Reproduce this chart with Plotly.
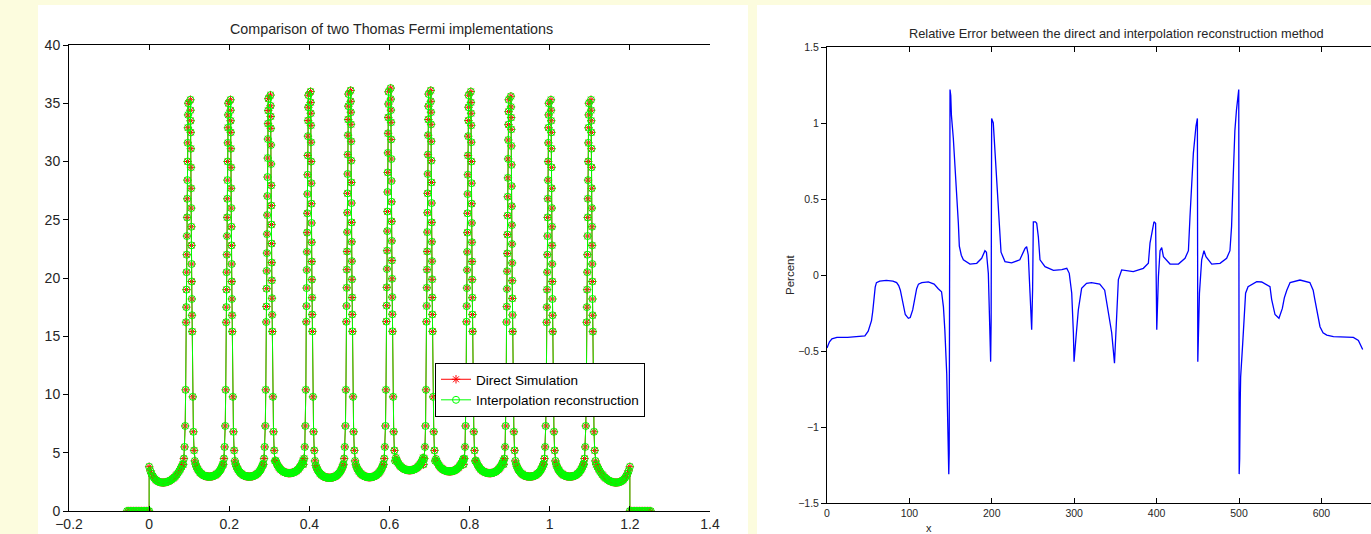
import plotly.graph_objects as go

W, H = 1371, 534

# ---------------- Left panel data ----------------
nuclei_x = [0.1, 0.2, 0.3, 0.4, 0.5, 0.6, 0.7, 0.8, 0.9, 1.0, 1.1]
peak_heights = [35.3, 35.3, 35.7, 36.0, 36.1, 36.3, 36.1, 36.0, 35.6, 35.3, 35.3]
valley_mins = [2.95, 2.95, 3.25, 2.85, 2.90, 3.50, 3.40, 3.25, 2.95, 2.95]

# points just left of each nucleus (offset, value)
peak_in_dx = [-0.0150, -0.0132, -0.0115, -0.0100, -0.0088, -0.0078, -0.0072, -0.0068,
              -0.0064, -0.0060, -0.0056, -0.0052, -0.0048, -0.0044, -0.0040, -0.0036,
              -0.0032, -0.0028, -0.0024]
peak_in_y = [4.0, 4.5, 5.5, 7.3, 10.4, 16.2, 17.5, 19.0, 20.5, 22.0, 23.6, 25.2, 26.8,
             28.4, 30.0, 31.6, 32.9, 34.0, 35.0]
# points just right of each nucleus
peak_out_dx = [0.0030, 0.0033, 0.0036, 0.0039, 0.0042, 0.0045, 0.0048, 0.0051, 0.0054,
               0.0057, 0.0060, 0.0063, 0.0066, 0.0070, 0.0076, 0.0090, 0.0105, 0.0122, 0.0140]
peak_out_y = [35.3, 34.4, 33.5, 32.5, 31.1, 29.5, 27.7, 26.0, 24.4, 22.8, 21.2, 19.7,
              18.2, 16.8, 15.4, 9.8, 6.8, 5.2, 4.3]
profile_top = 35.3

# valley between two nuclei (offset from the left nucleus)
valley_dx = [0.016, 0.018, 0.020, 0.022, 0.024, 0.026, 0.028, 0.030, 0.032, 0.034, 0.036,
             0.038, 0.040, 0.042, 0.044, 0.046, 0.048, 0.050, 0.052, 0.054, 0.056, 0.058,
             0.060, 0.062, 0.064, 0.066, 0.068, 0.070, 0.072, 0.074, 0.076, 0.078, 0.080,
             0.082, 0.084]
valley_y = [4.00, 3.80, 3.65, 3.52, 3.42, 3.33, 3.25, 3.19, 3.13, 3.08, 3.04, 3.01, 2.98,
            2.96, 2.95, 2.94, 2.93, 2.93, 2.93, 2.94, 2.95, 2.96, 2.98, 3.01, 3.04, 3.08,
            3.13, 3.19, 3.25, 3.33, 3.42, 3.52, 3.65, 3.80, 4.00]

edge_left_x = [0.000, 0.003, 0.006, 0.009, 0.012, 0.015, 0.018, 0.021, 0.024, 0.027,
               0.030, 0.033, 0.036, 0.039, 0.042, 0.045, 0.048, 0.051, 0.054, 0.057,
               0.060, 0.063, 0.066, 0.069, 0.072, 0.075, 0.078, 0.081, 0.084]
edge_left_y = [3.80, 3.45, 3.20, 3.00, 2.85, 2.73, 2.63, 2.56, 2.51, 2.47, 2.45, 2.44,
               2.44, 2.45, 2.47, 2.50, 2.54, 2.59, 2.65, 2.72, 2.80, 2.89, 3.00, 3.12,
               3.26, 3.42, 3.60, 3.80, 4.00]
edge_right_x = [1.116, 1.119, 1.122, 1.125, 1.128, 1.131, 1.134, 1.137, 1.140, 1.143,
                1.146, 1.149, 1.152, 1.155, 1.158, 1.161, 1.164, 1.167, 1.170, 1.173,
                1.176, 1.179, 1.182, 1.185, 1.188, 1.191, 1.194, 1.197, 1.200]
edge_right_y = [4.00, 3.80, 3.60, 3.42, 3.26, 3.12, 3.00, 2.89, 2.80, 2.72, 2.65, 2.59,
                2.54, 2.50, 2.47, 2.45, 2.44, 2.44, 2.45, 2.47, 2.51, 2.56, 2.63, 2.73,
                2.85, 3.00, 3.20, 3.45, 3.80]
tail_left_x = [-0.055, -0.051, -0.047, -0.043, -0.039, -0.035, -0.031, -0.027, -0.023,
               -0.019, -0.015, -0.011, -0.007, -0.003, 0.0]
tail_left_y = [0, 0, 0, 0, 0, 0, 0, 0, 0, 0, 0, 0, 0, 0, 0]
tail_right_x = [1.2, 1.204, 1.208, 1.212, 1.216, 1.22, 1.224, 1.228, 1.232, 1.236, 1.24,
                1.244, 1.248, 1.252]
tail_right_y = [0, 0, 0, 0, 0, 0, 0, 0, 0, 0, 0, 0, 0, 0]

left_xticks = [-0.2, 0, 0.2, 0.4, 0.6, 0.8, 1, 1.2, 1.4]
left_xtext = ["\u22120.2", "0", "0.2", "0.4", "0.6", "0.8", "1", "1.2", "1.4"]
left_yticks = [0, 5, 10, 15, 20, 25, 30, 35, 40]

# ---------------- Right panel data ----------------
err_x = [0, 3, 6, 12, 25, 40, 46, 50, 52, 54, 55.5, 57, 58.5, 60, 64, 72, 80, 84.5, 87, 89,
         91, 92.6, 95, 98.7, 101, 104, 106, 108.8, 111, 115, 123, 130, 135, 139, 141.3, 143,
         145.3, 146.5, 147, 147.8, 148.3, 149.3, 150.2, 151, 153.3, 155.3, 157.4, 159.4,
         160.6, 163, 165.5, 173.5, 181.7, 187.7, 191.7, 193.5, 195.8, 197, 198.6, 199.2,
         199.8, 201.8, 203.9, 205.9, 208, 210, 211.2, 216, 224, 234, 240.3, 242.3, 244.3,
         246.4, 248.4, 249.5, 250.4, 253, 254.5, 256.5, 258.5, 264.6, 274.8, 285, 291, 294,
         297, 299, 299.8, 302.2, 305, 309, 315, 321, 331, 337, 341.4, 345.5, 348.9, 350.7,
         353.6, 357.6, 371.7, 383.9, 390, 392, 395.3, 396.8, 398.8, 399.5, 400.2, 402.2,
         404.2, 406.2, 408.3, 416.3, 426.5, 434.5, 438.6, 440.5, 442.5, 444.6, 447.8, 448.7,
         449.5, 450, 452, 454.7, 457.5, 459.9, 466.9, 477, 485, 489, 491, 493, 495, 497, 499,
         499.7, 500.2, 500.8, 501.5, 502, 504.5, 506, 508, 511, 521.5, 527.5, 537.6, 539.6,
         543.7, 548.5, 552.6, 555, 558, 562, 574, 586, 590, 592, 594.3, 598.3, 602, 606.5,
         614.6, 638.8, 644.9, 648, 650.1]
err_y = [-0.48, -0.44, -0.42, -0.41, -0.41, -0.405, -0.40, -0.37, -0.34, -0.30, -0.24, -0.15,
         -0.08, -0.05, -0.04, -0.035, -0.04, -0.05, -0.07, -0.10, -0.15, -0.21, -0.26, -0.285,
         -0.28, -0.23, -0.16, -0.09, -0.06, -0.05, -0.045, -0.06, -0.09, -0.11, -0.21, -0.36,
         -0.65, -0.91, -1.17, -1.31, -1.17, 1.22, 1.18, 1.05, 0.90, 0.74, 0.54, 0.34, 0.19,
         0.13, 0.10, 0.072, 0.077, 0.11, 0.16, 0.15, 0.01, -0.25, -0.57, -0.30, 1.03, 1.00,
         0.81, 0.67, 0.52, 0.34, 0.15, 0.088, 0.08, 0.10, 0.175, 0.186, 0.13, -0.12, -0.36,
         -0.10, 0.35, 0.35, 0.34, 0.25, 0.10, 0.055, 0.03, 0.035, 0.044, 0.011, -0.12, -0.38,
         -0.57, -0.41, -0.23, -0.088, -0.055, -0.05, -0.06, -0.10, -0.25, -0.38, -0.58, -0.32,
         -0.03, 0.033, 0.022, 0.044, 0.077, 0.21, 0.32, 0.35, 0.34, 0.0, -0.36, -0.01, 0.16,
         0.18, 0.12, 0.072, 0.072, 0.11, 0.16, 0.38, 0.60, 0.80, 0.98, 1.03, 1.03, -0.57,
         -0.12, 0.10, 0.16, 0.12, 0.072, 0.077, 0.11, 0.16, 0.32, 0.65, 0.95, 1.09, 1.22,
         1.22, -1.31, -1.21, -0.83, -0.67, -0.45, -0.30, -0.12, -0.077, -0.044, -0.046,
         -0.077, -0.16, -0.26, -0.285, -0.22, -0.15, -0.10, -0.05, -0.033, -0.05, -0.10,
         -0.16, -0.23, -0.34, -0.38, -0.395, -0.405, -0.41, -0.43, -0.46, -0.49]

right_xticks = [0, 100, 200, 300, 400, 500, 600]
right_yticks = [-1.5, -1, -0.5, 0, 0.5, 1, 1.5]
right_ytext = ["\u22121.5", "\u22121", "\u22120.5", "0", "0.5", "1", "1.5"]

# ---------------- assemble the left curve ----------------
lx, ly = list(tail_left_x), list(tail_left_y)
lx += edge_left_x
ly += edge_left_y
for i, (nx, h) in enumerate(zip(nuclei_x, peak_heights)):
    k = (h - 15.0) / (profile_top - 15.0)
    for dx, y in zip(peak_in_dx + peak_out_dx, peak_in_y + peak_out_y):
        lx.append(round(nx + dx, 5))
        ly.append(y if y < 15 else 15 + (y - 15) * k)
    if i < len(valley_mins):
        s = valley_mins[i] - min(valley_y)
        for dx, y in zip(valley_dx, valley_y):
            lx.append(round(nx + dx, 5))
            ly.append(y + s)
lx += edge_right_x
ly += edge_right_y
lx += tail_right_x
ly += tail_right_y

FONT = "Liberation Sans, Arial, sans-serif"
TXT = "#262626"
GREEN = "#00FF00"
BG = "#FCFCDE"

fig = go.Figure()
fig.add_trace(go.Scatter(
    x=lx, y=ly, mode="lines+markers", name="Direct Simulation",
    line=dict(color="#FF0000", width=1),
    marker=dict(symbol="asterisk-open", size=7, color="#FF0000",
                line=dict(color="#FF0000", width=1)),
    xaxis="x", yaxis="y"))
fig.add_trace(go.Scatter(
    x=lx, y=ly, mode="lines+markers", name="Interpolation reconstruction",
    line=dict(color=GREEN, width=1),
    marker=dict(symbol="circle-open", size=7, color=GREEN,
                line=dict(color=GREEN, width=1)),
    xaxis="x", yaxis="y"))
fig.add_trace(go.Scatter(
    x=err_x, y=err_y, mode="lines", showlegend=False,
    line=dict(color="#0000FF", width=1.3),
    xaxis="x2", yaxis="y2"))

axcommon = dict(showgrid=False, zeroline=False, showline=True, linecolor="black",
                linewidth=1, tickcolor="black", ticklen=5, tickwidth=1, automargin=False)

LX0, LX1, LYT, LYB = 69, 710, 45, 511
RX0, RYT, RYB = 827, 47, 503
r_xmax = (W - RX0) / 0.824

fig.update_layout(
    width=W, height=H, margin=dict(l=0, r=0, t=0, b=0, pad=0, autoexpand=False),
    paper_bgcolor=BG, plot_bgcolor="white",
    font=dict(family=FONT, color=TXT),
    xaxis=dict(domain=[LX0 / W, LX1 / W], range=[-0.2, 1.4], anchor="y",
               tickvals=left_xticks, ticktext=left_xtext, ticks="inside",
               mirror="ticks", tickfont=dict(size=14, color=TXT), **axcommon),
    yaxis=dict(domain=[1 - LYB / H, 1 - LYT / H], range=[0, 40], anchor="x",
               tickvals=left_yticks, ticks="outside",
               tickfont=dict(size=14, color=TXT), **axcommon),
    yaxis3=dict(overlaying="y", side="right", anchor="x", range=[0, 40],
                tickvals=left_yticks, ticks="inside", showticklabels=False, **axcommon),
    xaxis2=dict(domain=[RX0 / W, 1.0], range=[0, r_xmax], anchor="y2",
                tickvals=right_xticks, ticks="inside", mirror="ticks",
                tickfont=dict(size=10.5, color=TXT), **axcommon),
    yaxis2=dict(domain=[1 - RYB / H, 1 - RYT / H], range=[-1.5, 1.5], anchor="x2",
                tickvals=right_yticks, ticktext=right_ytext, ticks="outside",
                tickfont=dict(size=10.5, color=TXT), **axcommon),
    legend=dict(x=435 / W, y=1 - 363 / H, xanchor="left", yanchor="top",
                bgcolor="white", bordercolor="black", borderwidth=1,
                font=dict(size=13.5, family=FONT, color="black")),
    shapes=[
        dict(type="rect", xref="paper", yref="paper", x0=38 / W, x1=748 / W,
             y0=0, y1=1 - 5 / H, fillcolor="white", line=dict(width=0), layer="below"),
        dict(type="rect", xref="paper", yref="paper", x0=757 / W, x1=1.0,
             y0=0, y1=1 - 5 / H, fillcolor="white", line=dict(width=0), layer="below"),
    ],
    annotations=[
        dict(text="Comparison of two Thomas Fermi implementations", xref="paper", yref="paper",
             x=391 / W, y=1 - 29 / H, xanchor="center", yanchor="middle", showarrow=False,
             font=dict(size=14.3, color=TXT)),
        dict(text="Relative Error between the direct and interpolation reconstruction method",
             xref="paper", yref="paper", x=1116 / W, y=1 - 33 / H, xanchor="center",
             yanchor="middle", showarrow=False, font=dict(size=12.8, color=TXT)),
        dict(text="Percent", xref="paper", yref="paper", x=790 / W, y=1 - 275 / H,
             xanchor="center", yanchor="middle", textangle=-90, showarrow=False,
             font=dict(size=11.5, color=TXT)),
        dict(text="x", xref="paper", yref="paper", x=929 / W, y=1 - 528 / H,
             xanchor="center", yanchor="middle", showarrow=False,
             font=dict(size=11, color=TXT)),
    ],
)

fig.write_html(
    "out.html",
    config={"displayModeBar": False},
    post_script=("document.body.style.margin='0';document.body.style.padding='0';"
                 "document.body.style.overflow='hidden';"
                 "document.body.style.background='" + BG + "';"),
)
